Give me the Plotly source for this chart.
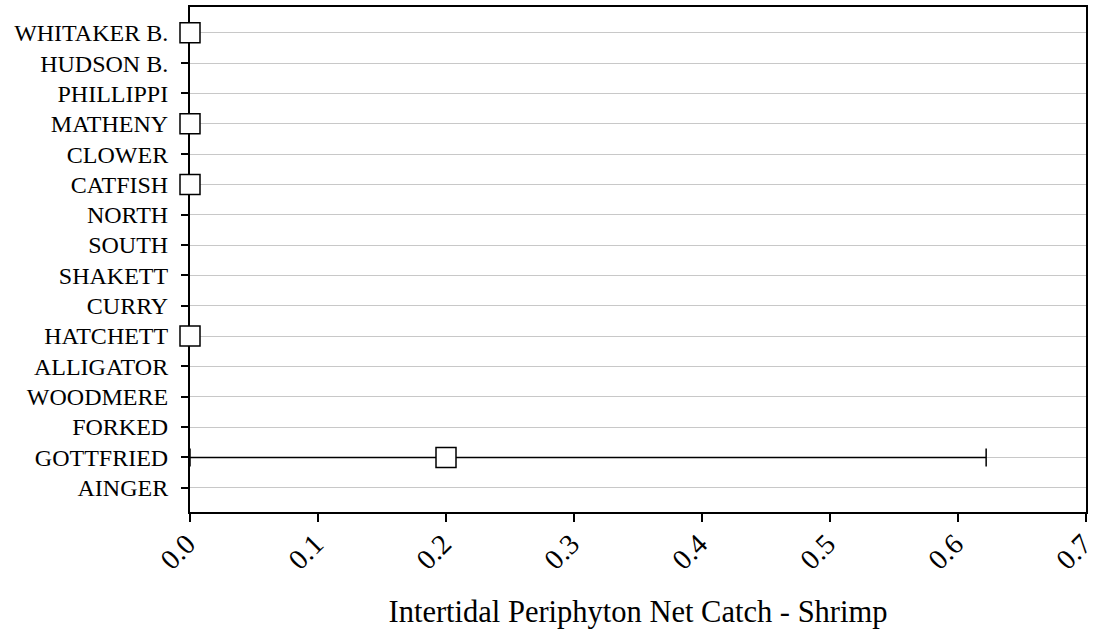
import plotly.graph_objects as go

sites = ["WHITAKER B.", "HUDSON B.", "PHILLIPPI", "MATHENY", "CLOWER", "CATFISH",
         "NORTH", "SOUTH", "SHAKETT", "CURRY", "HATCHETT", "ALLIGATOR",
         "WOODMERE", "FORKED", "GOTTFRIED", "AINGER"]
means = [0.0, None, None, 0.0, None, 0.0, None, None, None, None, 0.0, None,
         None, None, 0.2, None]
err_plus = [None, None, None, None, None, None, None, None, None, None, None,
            None, None, None, 0.422, None]
err_minus = [None, None, None, None, None, None, None, None, None, None, None,
             None, None, None, 0.2, None]
x_ticks = [0.0, 0.1, 0.2, 0.3, 0.4, 0.5, 0.6, 0.7]

fig = go.Figure()
fig.add_trace(go.Scatter(
    x=means, y=sites, mode="markers",
    marker=dict(symbol="square", size=20, color="white",
                line=dict(color="black", width=1.5)),
    error_x=dict(type="data", symmetric=False, array=err_plus,
                 arrayminus=err_minus, color="black", thickness=1.5, width=9),
    cliponaxis=False, showlegend=False, hoverinfo="skip",
))

font = "Liberation Serif"
fig.update_layout(
    width=1098, height=639,
    margin=dict(l=190, r=12, t=7, b=127),
    plot_bgcolor="white", paper_bgcolor="white",
    font=dict(family=font, color="black", size=24),
    xaxis=dict(range=[0, 0.70001], tickvals=x_ticks,
               ticktext=[f"{v:.1f}" for v in x_ticks], tickangle=-45,
               ticks="outside", ticklen=8, tickwidth=2, tickcolor="black",
               showgrid=False, zeroline=False, showline=True, mirror=True,
               linecolor="black", linewidth=2, automargin=False,
               layer="below traces", ticklabeloverflow="allow",
               ticklabelstandoff=-6, ticklabelshift=-3,
               title=dict(text="Intertidal Periphyton Net Catch - Shrimp",
                          font=dict(family=font, size=30.5), standoff=26),
               tickfont=dict(family=font, size=28.5)),
    yaxis=dict(type="category", categoryorder="array", categoryarray=sites,
               range=[len(sites) - 1 + 0.8, -0.85],
               ticks="outside", ticklen=7, tickwidth=2, tickcolor="black",
               showgrid=True, gridcolor="#c8c8c8", gridwidth=1.2,
               zeroline=False, showline=True, mirror=True, automargin=False,
               layer="below traces", ticklabelstandoff=8,
               linecolor="black", linewidth=2,
               tickfont=dict(family=font, size=24)),
)

fig.write_html("out.html", config={"displayModeBar": False},
               post_script="document.body.style.margin='0';"
                           "document.body.style.overflow='hidden';")
